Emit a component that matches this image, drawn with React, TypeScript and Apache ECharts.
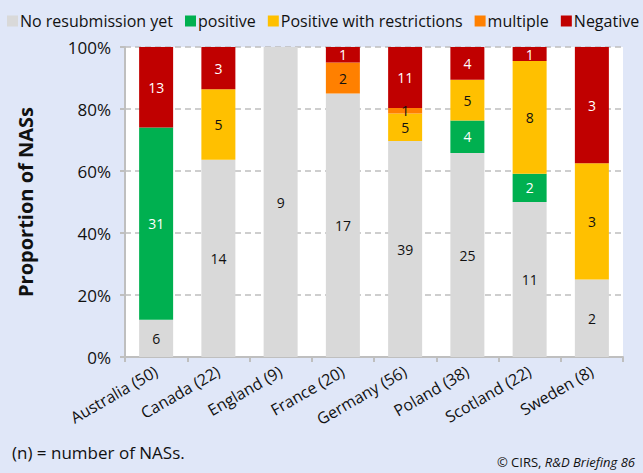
import React, { useEffect, useRef } from "react";
import * as echarts from "echarts";

const categories = ["Australia (50)", "Canada (22)", "England (9)", "France (20)", "Germany (56)", "Poland (38)", "Scotland (22)", "Sweden (8)"];
const noResubmission = [6, 14, 9, 17, 39, 25, 11, 2];
const positive = [31, 0, 0, 0, 0, 4, 2, 0];
const positiveRestrictions = [0, 5, 0, 0, 5, 5, 8, 3];
const multiple = [0, 0, 0, 2, 1, 0, 0, 0];
const negative = [13, 3, 0, 1, 11, 4, 1, 3];
const yTicks = [0, 20, 40, 60, 80, 100];

const seriesDefs = [
  { name: "No resubmission yet", data: noResubmission, color: "#D9D9D9", text: "#111" },
  { name: "positive", data: positive, color: "#00B050", text: "#fff" },
  { name: "Positive with restrictions", data: positiveRestrictions, color: "#FFC000", text: "#111" },
  { name: "multiple", data: multiple, color: "#FF8000", text: "#111" },
  { name: "Negative", data: negative, color: "#C00000", text: "#fff" },
];

const FONT = "'Open Sans', 'Noto Sans', sans-serif";

export default function App() {
  const ref = useRef<HTMLDivElement>(null);
  useEffect(() => {
    if (!ref.current) return;
    const chart = echarts.init(ref.current, null, { renderer: "svg" });
    const totals = categories.map((_, i) => seriesDefs.reduce((s, d) => s + d.data[i], 0));
    chart.setOption({
      animation: false,
      backgroundColor: "#E0E7F8",
      textStyle: { fontFamily: FONT },
      legend: {
        left: 2,
        top: 8,
        width: 640,
        itemWidth: 11,
        itemHeight: 11,
        itemGap: 12,
        icon: "rect",
        textStyle: { fontSize: 16, color: "#111", fontFamily: FONT, padding: [0, 0, 0, -3] },
        data: seriesDefs.map((d) => d.name),
      },
      grid: {
        left: 125,
        right: 20,
        top: 47,
        bottom: 116,
        show: true,
        backgroundColor: "#FFFFFF",
        borderWidth: 0,
      },
      xAxis: {
        type: "category",
        data: categories,
        axisLine: { lineStyle: { color: "#BFBFBF", width: 2 } },
        axisTick: { show: true, length: 5, lineStyle: { color: "#BFBFBF", width: 2 } },
        axisLabel: { rotate: 30, fontSize: 16, color: "#111", margin: 13, fontFamily: FONT },
      },
      yAxis: {
        type: "value",
        min: 0,
        max: 100,
        interval: 20,
        name: "Proportion of NASs",
        nameLocation: "middle",
        nameGap: 90,
        nameTextStyle: { fontSize: 20, fontWeight: "bold", color: "#111", fontFamily: FONT },
        axisLine: { show: true, lineStyle: { color: "#BFBFBF", width: 2 } },
        axisTick: { show: true, length: 5, lineStyle: { color: "#BFBFBF", width: 2 } },
        axisLabel: {
          fontSize: 17,
          color: "#111",
          margin: 14,
          fontFamily: FONT,
          formatter: (v: number) => (yTicks.includes(v) ? v + "%" : ""),
        },
        splitLine: { show: true, lineStyle: { color: "#BFBFBF", type: [6, 4], width: 1.5 } },
      },
      series: seriesDefs.map((d) => ({
        name: d.name,
        type: "bar",
        stack: "total",
        barWidth: 34,
        itemStyle: { color: d.color },
        label: {
          show: true,
          position: "inside",
          color: d.text,
          fontSize: 14,
          fontFamily: FONT,
          formatter: (p: any) => String(d.data[p.dataIndex]),
        },
        data: d.data.map((v, i) => (v > 0 ? (v / totals[i]) * 100 : null)),
      })),
      graphic: [
        {
          type: "text",
          left: 12,
          top: 444,
          style: { text: "(n) = number of NASs.", fontSize: 17, fill: "#111", fontFamily: FONT },
        },
        {
          type: "text",
          right: 8,
          top: 455,
          style: {
            text: "© CIRS, {i|R&D Briefing 86}",
            fontSize: 13,
            fill: "#111",
            fontFamily: FONT,
            rich: { i: { fontStyle: "italic", fontSize: 13, fontFamily: FONT, fill: "#111" } },
          },
        },
      ],
    });
    return () => chart.dispose();
  }, []);
  return <div ref={ref} style={{ width: 643, height: 473, position: "fixed", left: 0, top: 0 }} />;
}
